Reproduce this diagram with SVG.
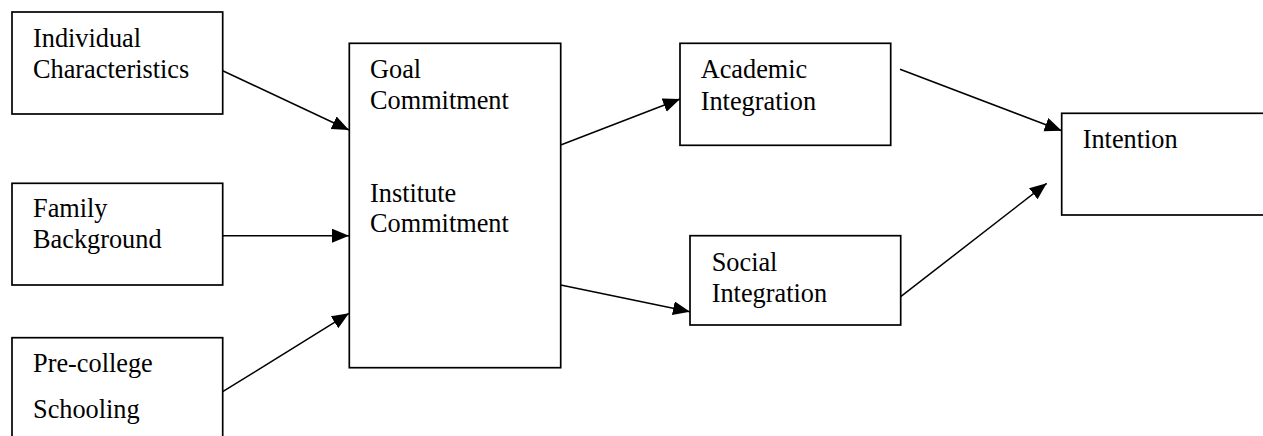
<svg xmlns="http://www.w3.org/2000/svg" width="1263" height="436" viewBox="0 0 1263 436">
  <style>
    .box { fill: #ffffff; stroke: #000000; stroke-width: 1.7; }
    .lbl { font-family: "Liberation Serif", "Times New Roman", "DejaVu Serif", serif; font-size: 26.3px; fill: #000000; }
    .edge { stroke: #000000; stroke-width: 1.5; fill: none; marker-end: url(#arrow); }
  </style>
  <defs>
    <marker id="arrow" markerUnits="userSpaceOnUse" markerWidth="18" markerHeight="15" refX="17" refY="7" orient="auto">
      <path d="M0,0 L17,7 L0,14 z" fill="#000000"/>
    </marker>
  </defs>
  <rect width="1263" height="436" fill="#ffffff"/>

  <g id="individual-characteristics">
    <rect class="box" x="12" y="12" width="210.7" height="102"/>
    <text class="lbl" font-family="Liberation Serif, serif" x="33" y="47">Individual</text>
    <text class="lbl" font-family="Liberation Serif, serif" x="33" y="78.3">Characteristics</text>
  </g>

  <g id="family-background">
    <rect class="box" x="12" y="183.3" width="210.7" height="101.7"/>
    <text class="lbl" font-family="Liberation Serif, serif" x="33" y="216.7">Family</text>
    <text class="lbl" font-family="Liberation Serif, serif" x="33" y="248.3">Background</text>
  </g>

  <g id="pre-college-schooling">
    <rect class="box" x="12" y="337.7" width="210.7" height="110"/>
    <text class="lbl" font-family="Liberation Serif, serif" x="33" y="371.7">Pre-college</text>
    <text class="lbl" font-family="Liberation Serif, serif" x="33" y="418.3">Schooling</text>
  </g>

  <g id="commitment">
    <rect class="box" x="349.3" y="43.3" width="211.4" height="324.4"/>
    <text class="lbl" font-family="Liberation Serif, serif" x="370" y="78.3">Goal</text>
    <text class="lbl" font-family="Liberation Serif, serif" x="370" y="109">Commitment</text>
    <text class="lbl" font-family="Liberation Serif, serif" x="370" y="201.7">Institute</text>
    <text class="lbl" font-family="Liberation Serif, serif" x="370" y="232.3">Commitment</text>
  </g>

  <g id="academic-integration">
    <rect class="box" x="680" y="43.3" width="210.7" height="102"/>
    <text class="lbl" font-family="Liberation Serif, serif" x="700.7" y="78">Academic</text>
    <text class="lbl" font-family="Liberation Serif, serif" x="700.7" y="110">Integration</text>
  </g>

  <g id="social-integration">
    <rect class="box" x="690" y="235.7" width="210.7" height="89.3"/>
    <text class="lbl" font-family="Liberation Serif, serif" x="711.7" y="270.7">Social</text>
    <text class="lbl" font-family="Liberation Serif, serif" x="711.7" y="301.7">Integration</text>
  </g>

  <g id="intention">
    <rect class="box" x="1061.7" y="113.3" width="210" height="101.7"/>
    <text class="lbl" font-family="Liberation Serif, serif" x="1082.7" y="148.3">Intention</text>
  </g>

  <g id="connectors">
    <line class="edge" x1="222.7" y1="70.7" x2="349" y2="130"/>
    <line class="edge" x1="222.7" y1="235.7" x2="349" y2="235.7"/>
    <line class="edge" x1="222.7" y1="391.7" x2="349" y2="313.3"/>
    <line class="edge" x1="560.7" y1="145" x2="680" y2="99"/>
    <line class="edge" x1="560.7" y1="285" x2="690" y2="311.7"/>
    <line class="edge" x1="900" y1="69.3" x2="1061.7" y2="130.7"/>
    <line class="edge" x1="900.7" y1="296.7" x2="1046.7" y2="183.3"/>
  </g>
</svg>
